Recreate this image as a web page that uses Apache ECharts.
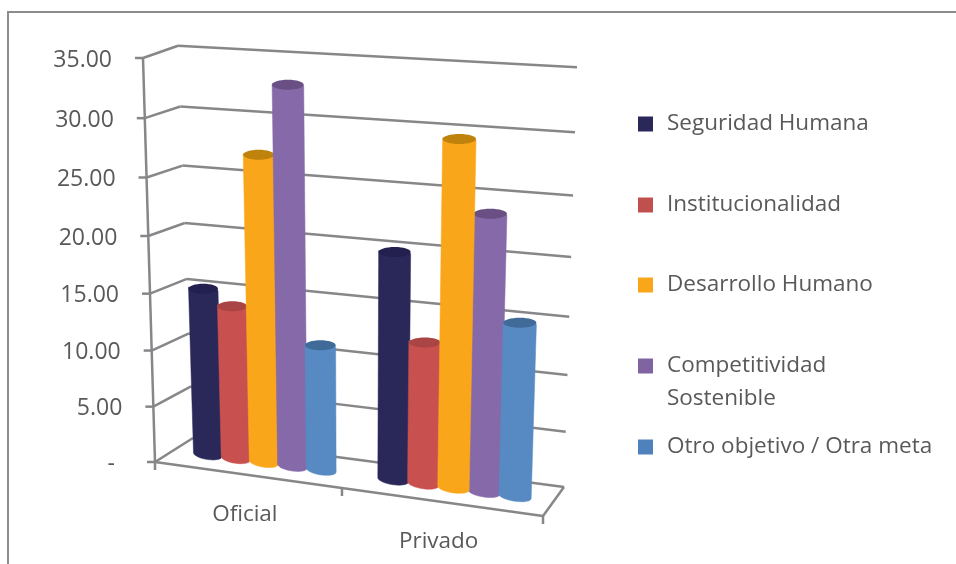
<!DOCTYPE html>
<html><head><meta charset="utf-8">
<style>html,body{margin:0;padding:0;background:#fff}#c{width:956px;height:564px}</style>
<script src="https://cdn.jsdelivr.net/npm/echarts@6/dist/echarts.min.js"></script>
</head><body><div id="c"></div>
<script>
// ---- data ----
const categories = ['Oficial', 'Privado'];
const seriesNames = ['Seguridad Humana', 'Institucionalidad', 'Desarrollo Humano', 'Competitividad Sostenible', 'Otro objetivo / Otra meta'];
const seguridadHumana = [15.1, 19.8];
const institucionalidad = [13.8, 12.4];
const desarrolloHumano = [27.0, 29.4];
const competitividad = [32.9, 23.6];
const otroObjetivo = [11.2, 14.9];
const valueTicks = [0, 5, 10, 15, 20, 25, 30, 35];
const tickLabels = ['-', '5.00', '10.00', '15.00', '20.00', '25.00', '30.00', '35.00'];

// ---- style / layout ----
const allValues = [seguridadHumana, institucionalidad, desarrolloHumano, competitividad, otroObjetivo];
const bodyColors = ['#2A2859', '#C8504F', '#FAA61A', '#8669A8', '#578AC3'];
const topColors = ['#231F4F', '#A94544', '#BF820C', '#694F84', '#406B99'];
const legendColors = ['#2A2859', '#C0504D', '#FAA61A', '#8064A2', '#4F81BD'];
const legendTops = [109, 190, 270, 351, 432];
const FONT = '"Open Sans", sans-serif';
const TXT = '#595959', LINE = '#87878A';
const G = {left: 100, top: 50, width: 400, height: 400};
// screen corners of the 3D box: [x(0|1)][value(0|1)][depth(0|1)]
const C = {
  '000': [155, 462], '010': [143, 58], '001': [193, 438], '011': [178, 45.7],
  '100': [543, 516], '110': [559, 79], '101': [564, 487], '111': [577, 67.3]
};
const warp = (h, a) => h / (1 + a * (1 - h));
function project(nx, ny, z) {
  const tx = warp(nx, 0.075), ty = warp(ny, 0.05 + 0.05 * z);
  const out = [0, 0];
  for (const a of [0, 1]) for (const b of [0, 1]) for (const c of [0, 1]) {
    const w = (a ? tx : 1 - tx) * (b ? ty : 1 - ty) * (c ? z : 1 - z);
    const p = C['' + a + b + c];
    out[0] += w * p[0]; out[1] += w * p[1];
  }
  return out;
}
// value / category -> normalised box coords, through the chart's own axes
const nxOf = (api, cat) => (api.coord([cat, 0])[0] - G.left) / G.width;
const nyOf = (api, val) => (G.top + G.height - api.coord([0, val])[1]) / G.height;

const Z = 0.5, STEP = 0.0775, R = 0.04, RY = 5;
const drawRank = {1: {3: 2, 2: 3}}; // in Privado the orange column overlaps the purple one

function barRenderer(si) {
  return function (params, api) {
    const cat = api.value(0), val = api.value(1);
    const nc = nxOf(api, cat) + (si - 2) * STEP;
    const ny = nyOf(api, val);
    const ctl = project(nc - R, ny, Z), ctr = project(nc + R, ny, Z);
    const cbl = project(nc - R, 0, Z), cbr = project(nc + R, 0, Z);
    const rank = (drawRank[cat] && drawRank[cat][si] !== undefined) ? drawRank[cat][si] : si;
    const pts = [ctl, ctr];
    const n = 16;
    const bcx = (cbl[0] + cbr[0]) / 2, bcy = (cbl[1] + cbr[1]) / 2, brx = (cbr[0] - cbl[0]) / 2, sl = (cbr[1] - cbl[1]) / 2;
    for (let k = 0; k <= n; k++) {
      const th = Math.PI * k / n;
      pts.push([bcx + brx * Math.cos(th), bcy + sl * Math.cos(th) + RY * Math.sin(th)]);
    }
    const tcx = (ctl[0] + ctr[0]) / 2, tcy = (ctl[1] + ctr[1]) / 2, trx = (ctr[0] - ctl[0]) / 2;
    return {
      type: 'group',
      children: [
        {type: 'polygon', shape: {points: pts}, z2: 10 + rank * 2,
         style: {fill: bodyColors[si], stroke: bodyColors[si], lineWidth: 0.5}},
        {type: 'ellipse', shape: {cx: tcx, cy: tcy, rx: trx, ry: RY}, z2: 11 + rank * 2,
         style: {fill: topColors[si]}}
      ]
    };
  };
}
function line(a, b) {
  return {type: 'line', shape: {x1: a[0], y1: a[1], x2: b[0], y2: b[1]}, z2: 1,
          style: {stroke: LINE, lineWidth: 2.5}};
}
function frameRenderer(params, api) {
  const v = api.value(0), ny = nyOf(api, v), idx = params.dataIndex;
  const f = project(0, ny, 0), b = project(0, ny, 1), r = project(1, ny, 1);
  const kids = [line(f, b), line(b, r), line(f, [f[0] - 8, f[1]])];
  kids.push({type: 'text', z2: 2, style: {text: tickLabels[idx], x: f[0] - (idx === 0 ? 40 : 31), y: f[1] + 2,
    align: 'right', verticalAlign: 'middle', font: '23px ' + FONT, fill: TXT}});
  if (idx === 0) {
    const fr = project(1, 0, 0);
    kids.push(line(f, fr), line(fr, r), line(f, project(0, 1, 0)));
    for (const x of [0, 0.5, 1]) {
      const p = project(x, 0, 0);
      kids.push(line(p, [p[0], p[1] + 8]));
    }
    categories.forEach(function (name, i) {
      const p = project(nxOf(api, i), 0, 0);
      kids.push({type: 'text', z2: 2, style: {text: name, x: p[0] - 2, y: p[1] + 40,
        align: 'center', verticalAlign: 'middle', font: '22.5px ' + FONT, fill: TXT}});
    });
  }
  return {type: 'group', children: kids};
}

const series = [{
  type: 'custom', name: 'marco', coordinateSystem: 'cartesian2d', silent: true,
  encode: {x: 1, y: 0}, data: valueTicks.map(v => [v, 0]), renderItem: frameRenderer, z: 1
}];
seriesNames.forEach(function (name, si) {
  series.push({
    type: 'custom', name: name, coordinateSystem: 'cartesian2d', z: 1,
    encode: {x: 0, y: 1},
    itemStyle: {color: legendColors[si]},
    data: categories.map((c, i) => [i, allValues[si][i]]),
    renderItem: barRenderer(si)
  });
});

const chart = echarts.init(document.getElementById('c'), null, {renderer: 'canvas'});
chart.setOption({
  animation: false,
  backgroundColor: '#fff',
  grid: Object.assign({}, G, {show: false}),
  xAxis: {type: 'category', data: [0, 1], show: false},
  yAxis: {type: 'value', min: 0, max: 35, interval: 5, show: false},
  legend: seriesNames.map(function (name, i) {
    return {
      data: [{name: name, icon: 'rect', itemStyle: {color: legendColors[i]}}],
      left: 638, top: legendTops[i], padding: 0, itemWidth: 15, itemHeight: 15, itemGap: 0,
      selectedMode: false,
      formatter: i === 3 ? () => 'Competitividad' : undefined,
      textStyle: {fontFamily: FONT, fontSize: 22.5, color: TXT, padding: [0, 0, 0, 9], lineHeight: 30}
    };
  }),
  graphic: [
    {type: 'rect', shape: {x: 8, y: 12, width: 980, height: 600}, z: -1, silent: true,
     style: {fill: 'none', stroke: '#8C8C8C', lineWidth: 2}},
    {type: 'text', x: 667, y: 399, silent: true,
     style: {text: 'Sostenible', verticalAlign: 'middle', font: '22.5px ' + FONT, fill: TXT}}
  ],
  series: series
});
</script></body></html>
